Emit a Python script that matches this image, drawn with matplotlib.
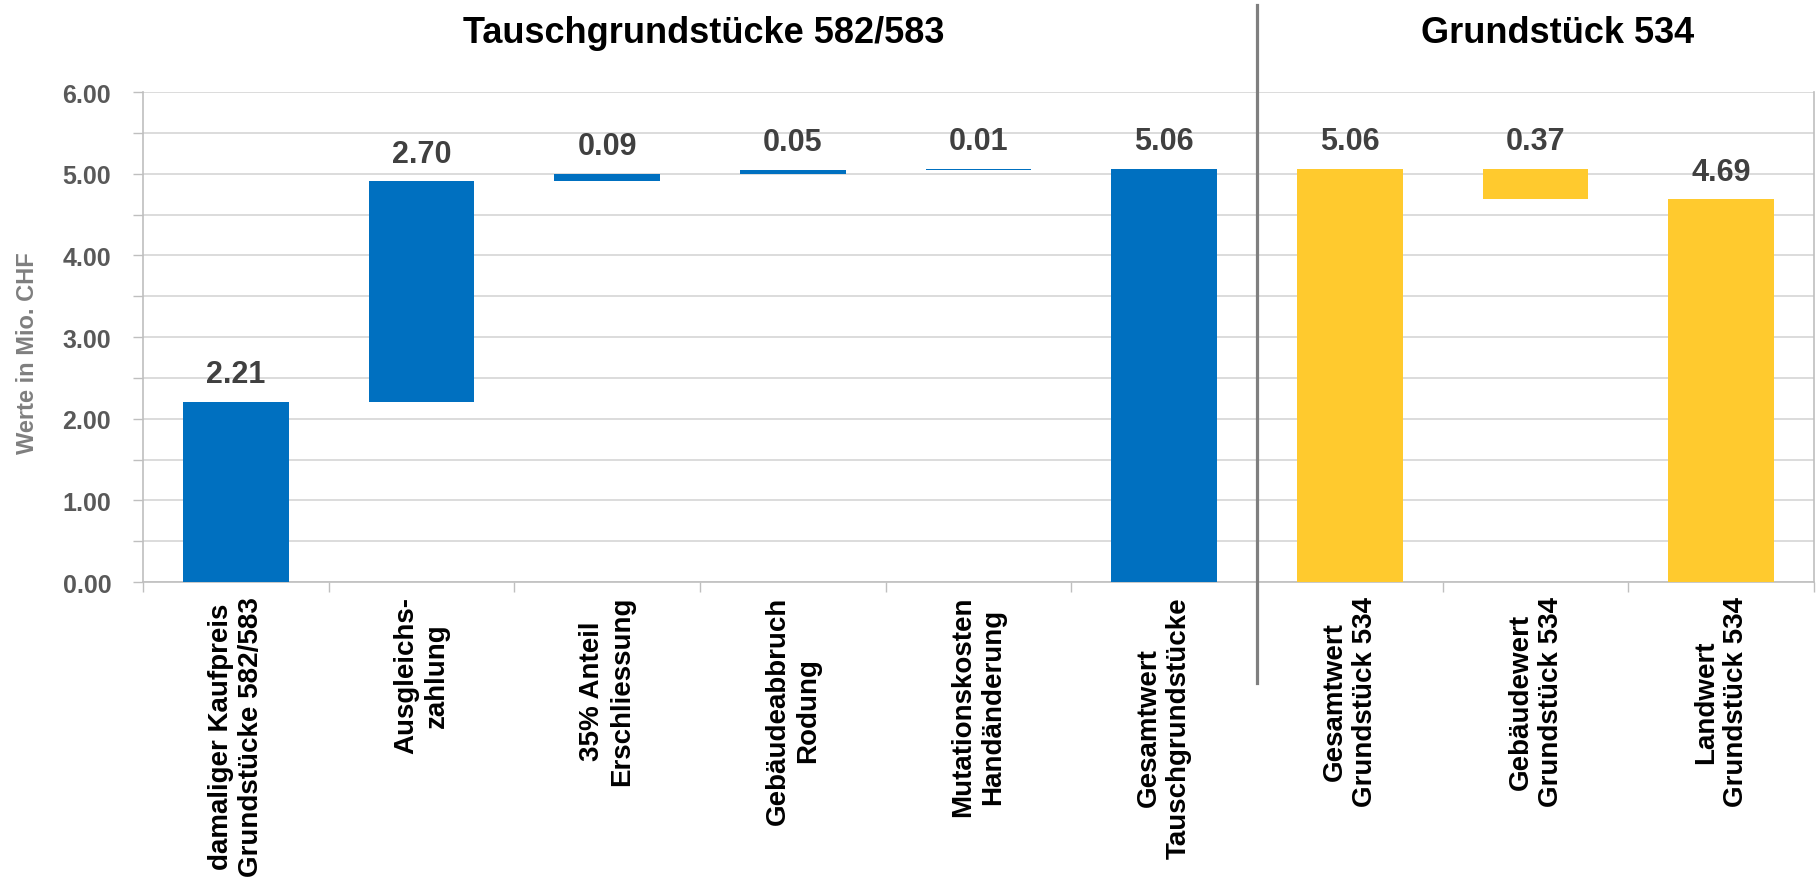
import numpy as np
import matplotlib
matplotlib.use('Agg')
import matplotlib.pyplot as plt
import matplotlib.transforms as mtransforms
from matplotlib.lines import Line2D

plt.rcParams['font.family'] = ['Liberation Sans', 'DejaVu Sans']
plt.rcParams['font.weight'] = 'bold'

# Daten (Mio. CHF)
categories = [
    'damaliger Kaufpreis\nGrundstücke 582/583',
    'Ausgleichs-\nzahlung',
    '35% Anteil\nErschliessung',
    'Gebäudeabbruch\nRodung',
    'Mutationskosten\nHandänderung',
    'Gesamtwert\nTauschgrundstücke',
    'Gesamtwert\nGrundstück 534',
    'Gebäudewert\nGrundstück 534',
    'Landwert\nGrundstück 534',
]
values = [2.21, 2.70, 0.09, 0.05, 0.01, 5.06, 5.06, -0.37, 4.69]
kinds = ['step', 'step', 'step', 'step', 'step', 'total', 'total', 'step', 'total']
groups = [0, 0, 0, 0, 0, 0, 1, 1, 1]
group_titles = ['Tauschgrundstücke 582/583', 'Grundstück 534']
yticks = [0, 1, 2, 3, 4, 5, 6]

BLUE = '#0070C0'
YELLOW = '#FFCA2E'
group_colors = [BLUE, YELLOW]

# Wasserfall: Basis und Höhe berechnen
bottoms, heights = [], []
running = 0.0
for v, k in zip(values, kinds):
    if k == 'total':
        bottoms.append(0.0)
        heights.append(v)
        running = v
    else:
        if v >= 0:
            bottoms.append(running)
        else:
            bottoms.append(running + v)
        heights.append(abs(v))
        running += v

x = np.arange(len(categories))
colors = [group_colors[g] for g in groups]

fig = plt.figure(figsize=(18.18, 8.87), dpi=100)
ax = fig.add_axes([0.0787, 0.3427, 0.9191, 0.5524])

ax.bar(x, heights, bottom=bottoms, width=0.57, color=colors, zorder=3)

# Wertbeschriftungen
for xi, b, h, v in zip(x, bottoms, heights, values):
    ax.annotate(f'{abs(v):.2f}', (xi, b + h), xytext=(0, 9), textcoords='offset points',
                ha='center', va='bottom', fontsize=22, fontweight='bold', color='#404040')

# Achsen
ax.set_xlim(-0.5, len(categories) - 0.5)
ax.set_ylim(0, 6)
ax.set_yticks(yticks)
ax.set_yticklabels([f'{t:.2f}' for t in yticks])
ax.set_yticks(np.arange(0.5, 6, 1.0), minor=True)
ax.tick_params(axis='y', which='both', length=7, width=1, color='#BFBFBF',
               labelsize=18, labelcolor='#595959', pad=16)
ax.grid(axis='y', which='both', color='#D9D9D9', linewidth=1.3, zorder=0)

ax.set_xticks(x)
ax.set_xticklabels(categories, rotation=90, fontsize=20, fontweight='bold', color='black')
ax.set_xticks(np.arange(-0.5, len(categories), 1.0), minor=True)
ax.tick_params(axis='x', which='major', length=0, pad=10)
ax.tick_params(axis='x', which='minor', length=7, width=1, color='#BFBFBF')

for s in ax.spines.values():
    s.set_color('#BFBFBF')
    s.set_linewidth(1.2)
ax.spines['top'].set_visible(False)

ax.set_ylabel('Werte in Mio. CHF', fontsize=17, fontweight='bold', color='#7F7F7F')
ax.yaxis.set_label_coords(-0.062, 0.47)

# Gruppentitel und Trennlinie
trans = mtransforms.blended_transform_factory(ax.transData, fig.transFigure)
ax.text(2.52, 0.962, group_titles[0], transform=trans, ha='center', va='center',
        fontsize=26, fontweight='bold', color='black')
ax.text(7.12, 0.962, group_titles[1], transform=trans, ha='center', va='center',
        fontsize=26, fontweight='bold', color='black')
fig.add_artist(Line2D([5.5, 5.5], [0.993, 0.229], transform=trans,
                      color='#7F7F7F', linewidth=2.3))

fig.savefig('out.png', dpi=100)
plt.close(fig)
